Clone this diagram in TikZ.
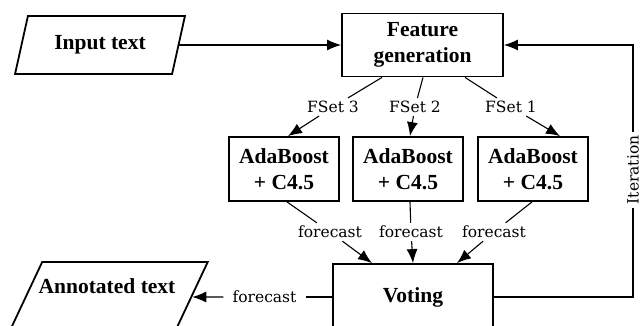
\documentclass[tikz,border=0pt]{standalone}
\usepackage{fontspec}
\setmainfont{Liberation Serif}
\newfontfamily\lblfont{DejaVu Serif}
\usetikzlibrary{shapes.geometric,arrows.meta}
\begin{document}
\begin{tikzpicture}[x=1pt,y=-1pt,
  boxfont/.style={font=\bfseries\fontsize{21.5}{26}\selectfont},
  box/.style={draw, line width=1.8pt, align=center, boxfont, inner sep=0pt},
  para/.style={trapezium, trapezium stretches=true, draw, line width=1.8pt, inner sep=1pt, boxfont},
  lbl/.style={font=\lblfont\fontsize{15.5}{18}\selectfont, inner sep=3pt},
  conn/.style={line width=1.1pt},
  arr/.style={conn, -{Latex[length=14pt,width=11pt]}}]
\clip (0,0) rectangle (641,325);
% nodes
\node[para, trapezium left angle=68, trapezium right angle=112, minimum width=170pt, minimum height=58pt] (input) at (100,45) {Input text};
\node[box, minimum width=161pt, minimum height=63pt] (fg) at (422.5,45) {Feature\\generation};
\node[box, minimum width=110pt, minimum height=64pt] (b1) at (284,169) {AdaBoost\\+ C4.5};
\node[box, minimum width=110pt, minimum height=64pt] (b2) at (408,169) {AdaBoost\\+ C4.5};
\node[box, minimum width=110pt, minimum height=64pt] (b3) at (533,169) {AdaBoost\\+ C4.5};
\node[box, minimum width=160pt, minimum height=66pt] (vote) at (413,297) {Voting};
\node[para, trapezium left angle=71, trapezium right angle=109, minimum width=199pt, minimum height=70pt] (anno) at (108.5,297) {\phantom{M}};
\node[boxfont, inner sep=0pt] (annotxt) at (107,286) {Annotated text};
% labels
\node[lbl] (fs3) at (333,107) {FSet 3};
\node[lbl] (fs2) at (415,107) {FSet 2};
\node[lbl] (fs1) at (511,107) {FSet 1};
\node[lbl] (fc1) at (330,232) {forecast};
\node[lbl] (fc2) at (411,232) {forecast};
\node[lbl] (fc3) at (494,232) {forecast};
\node[lbl, inner xsep=9pt] (fcb) at (264.5,297) {forecast};
\node[lbl, rotate=90] (iter) at (633,170) {Iteration};
% connectors
\draw[arr] (input.east) -- (input.east -| fg.west);
\draw[conn] ([xshift=-40.5pt]fg.south) -- (fs3);
\draw[arr] (fs3) -- ([xshift=4pt]b1.north);
\draw[conn] ([xshift=0.5pt]fg.south) -- (fs2);
\draw[arr] (fs2) -- ([xshift=2pt]b2.north);
\draw[conn] ([xshift=42.5pt]fg.south) -- (fs1);
\draw[arr] (fs1) -- ([xshift=27pt]b3.north);
\draw[conn] ([xshift=3pt]b1.south) -- (fc1);
\draw[arr] (fc1) -- ([xshift=-41pt]vote.north);
\draw[conn] ([xshift=2pt]b2.south) -- (fc2);
\draw[arr] (fc2) -- (vote.north);
\draw[conn] ([xshift=-1pt]b3.south) -- (fc3);
\draw[arr] (fc3) -- ([xshift=44pt]vote.north);
\draw[conn] (vote.west) -- (fcb);
\draw[arr] (fcb) -- (anno.east);
\draw[conn] (vote.east) -| (iter);
\draw[arr] (iter) |- (fg.east);
\end{tikzpicture}
\end{document}
